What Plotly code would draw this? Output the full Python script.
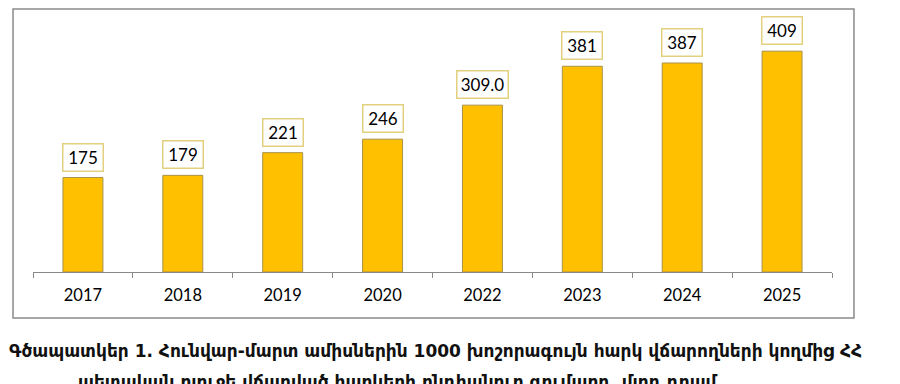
import plotly.graph_objects as go

years = ["2017", "2018", "2019", "2020", "2022", "2023", "2024", "2025"]
values = [175, 179, 221, 246, 309.0, 381, 387, 409]
value_labels = ["175", "179", "221", "246", "309.0", "381", "387", "409"]
caption_line1 = "Գծապատկեր 1. Հունվար-մարտ ամիսներին 1000 խոշորագույն հարկ վճարողների կողմից ՀՀ"
caption_line2 = "պետական բյուջե վճարված հարկերի ընդհանուր գումարը, մլրդ դրամ"

fig = go.Figure()
fig.add_trace(go.Bar(
    x=years, y=values,
    marker=dict(color="#FFC000", line=dict(color="#A8914A", width=1)),
    width=0.4,
    hoverinfo="skip",
))

for i, (v, s) in enumerate(zip(values, value_labels)):
    fig.add_annotation(
        x=i, y=v, xref="x", yref="y", text=s, showarrow=False,
        yanchor="bottom", yshift=6,
        font=dict(family="Lato", size=17, color="#000000"),
        bgcolor="white", bordercolor="#E3D07E", borderwidth=1.5,
        width=9 * len(s) + 12 if "." not in s else 9 * len(s) + 5,
        height=26, borderpad=0,
    )

fig.add_annotation(x=0.504, y=-0.314, xref="paper", yref="paper",
                   text="<b>" + caption_line1 + "</b>", showarrow=False,
                   xanchor="center", yanchor="middle",
                   font=dict(family="DejaVu Sans", size=17, color="#111111"))
fig.add_annotation(x=0.457, y=-0.436, xref="paper", yref="paper",
                   text="<b>" + caption_line2 + "</b>", showarrow=False,
                   xanchor="center", yanchor="middle",
                   font=dict(family="DejaVu Sans", size=17, color="#111111"))

fig.add_shape(type="rect", xref="paper", yref="paper",
              x0=-0.025, x1=1.0275, y0=-0.1825, y1=1.0437,
              line=dict(color="#8A8A8A", width=1.5), fillcolor="rgba(0,0,0,0)",
              layer="below")

fig.update_layout(
    width=900, height=384,
    margin=dict(l=25, r=76, t=12, b=120),
    paper_bgcolor="white", plot_bgcolor="white",
    showlegend=False,
    xaxis=dict(
        type="category", range=[-0.5, 7.5], showline=True, linecolor="#898989", linewidth=1,
        ticks="outside", tickson="boundaries", ticklen=5, tickcolor="#898989",
        ticklabelstandoff=8,
        tickfont=dict(family="Lato", size=16.5, color="#000000"),
        showgrid=False, zeroline=False, fixedrange=True,
    ),
    yaxis=dict(range=[0, 466.7], visible=False, showgrid=False, zeroline=False),
)

fig.write_html("out.html")
